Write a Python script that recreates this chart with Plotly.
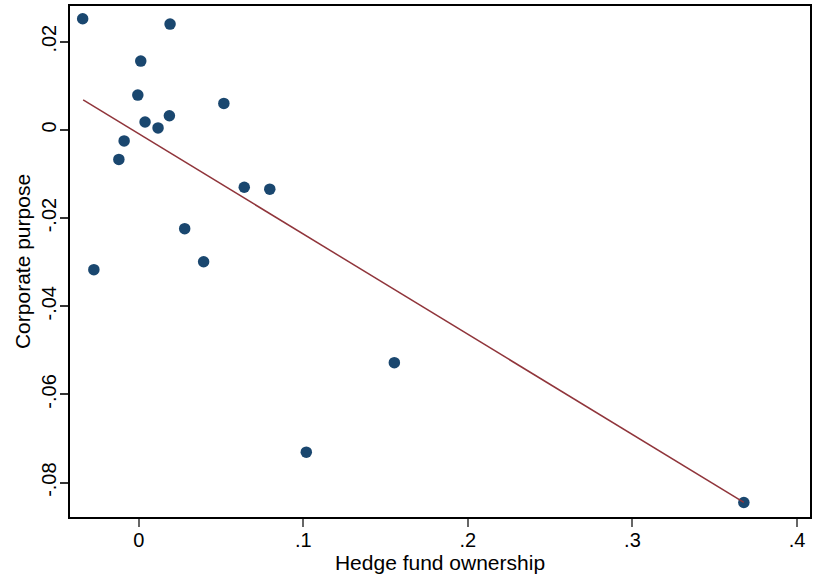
import plotly.graph_objects as go

# Binned scatter values
hedge_fund_ownership = [-0.0341, 0.0190, 0.0012, -0.0006, 0.0517, 0.0038, 0.0186, 0.0117,
                        -0.0089, -0.0121, 0.0641, 0.0796, 0.0279, 0.0394, -0.0273, 0.1553,
                        0.1018, 0.3677]
corporate_purpose = [0.0252, 0.0240, 0.0156, 0.0079, 0.0060, 0.0018, 0.0032, 0.00045,
                     -0.0025, -0.0067, -0.0130, -0.01345, -0.0224, -0.0299, -0.0317, -0.0528,
                     -0.0731, -0.0845]

# Fitted line endpoints
fit_x = [-0.0338, 0.3677]
fit_y = [0.0068, -0.0845]

x_ticks = [0, 0.1, 0.2, 0.3, 0.4]
x_tick_labels = ["0", ".1", ".2", ".3", ".4"]
y_ticks = [-0.08, -0.06, -0.04, -0.02, 0, 0.02]
y_tick_labels = ["-.08", "-.06", "-.04", "-.02", "0", ".02"]

fig = go.Figure()
fig.add_trace(go.Scatter(
    x=hedge_fund_ownership, y=corporate_purpose, mode="markers",
    marker=dict(size=11.5, color="#1a476f", line=dict(width=0)),
    showlegend=False, hoverinfo="x+y"))
fig.add_trace(go.Scatter(
    x=fit_x, y=fit_y, mode="lines",
    line=dict(color="#90353b", width=1.5),
    showlegend=False, hoverinfo="skip"))

font_family = "Liberation Sans, Arial, Helvetica, sans-serif"

fig.update_layout(
    width=815, height=582,
    margin=dict(l=70, r=3, t=6, b=65),
    paper_bgcolor="white", plot_bgcolor="white",
    font=dict(family=font_family, size=20, color="black"),
)
fig.update_xaxes(
    range=[-0.0418, 0.4079],
    tickvals=x_ticks, ticktext=x_tick_labels,
    ticks="outside", ticklen=8, tickwidth=1.5, tickcolor="#666666",
    showline=True, linecolor="black", linewidth=1.5, mirror=True,
    showgrid=False, zeroline=False,
    tickfont=dict(size=20),
    ticklabelstandoff=-4,
    title=dict(text="Hedge fund ownership", font=dict(size=21), standoff=0),
)
fig.update_yaxes(
    range=[-0.0878, 0.0281],
    tickvals=y_ticks, ticktext=y_tick_labels,
    ticks="outside", ticklen=8, tickwidth=1.5, tickcolor="#333333",
    showline=True, linecolor="black", linewidth=1.5, mirror=True,
    showgrid=False, zeroline=False,
    tickangle=-90,
    tickfont=dict(size=20),
    ticklabelstandoff=-4,
    title=dict(text="Corporate purpose", font=dict(size=21), standoff=2),
)

fig.write_html(
    "out.html",
    config={"displayModeBar": False},
    post_script="document.body.style.margin='0';document.body.style.overflow='hidden';",
)
